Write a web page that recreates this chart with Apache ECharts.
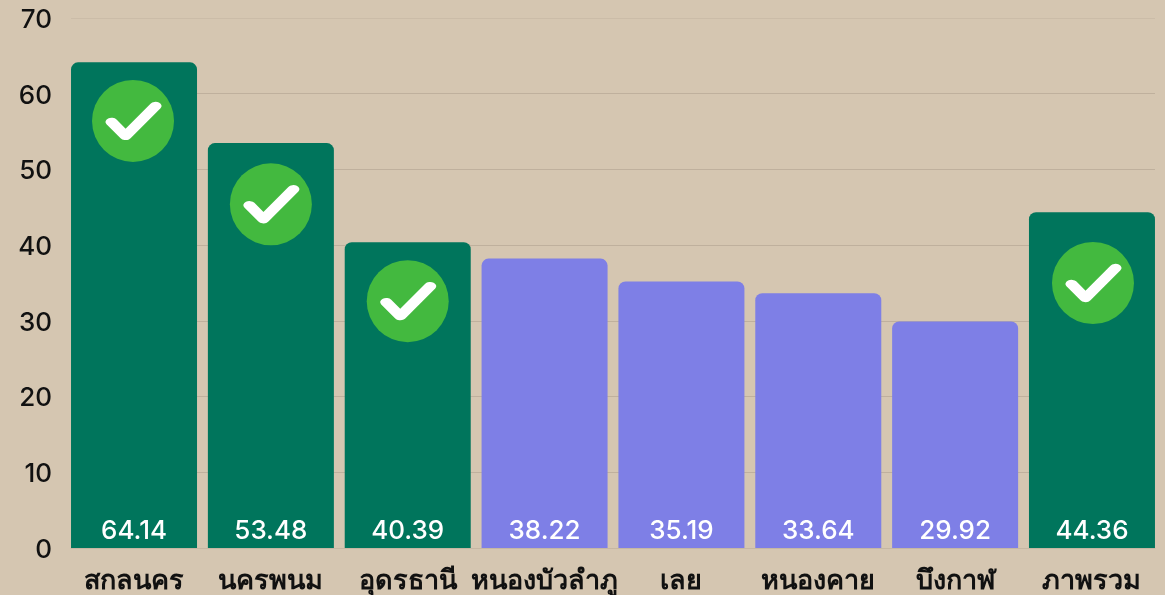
<!DOCTYPE html>
<html><head><meta charset="utf-8">
<style>html,body{margin:0;padding:0;background:#d5c6b1}#c{width:1165px;height:595px}</style>
<script src="https://cdn.jsdelivr.net/npm/echarts@6/dist/echarts.min.js"></script></head>
<body><div id="c"></div>
<script>
const categories = ['สกลนคร','นครพนม','อุดรธานี','หนองบัวลำภู','เลย','หนองคาย','บึงกาฬ','ภาพรวม'];
const values = [64.14,53.48,40.39,38.22,35.19,33.64,29.92,44.36];
const passed = [true,true,true,false,false,false,false,true];
const checkHeights = [56.4,45.4,32.6,null,null,null,null,35];
const GREEN='#00755c', PURPLE='#7e7fe6';
const num = '"Inter","Open Sans",sans-serif';
const chart = echarts.init(document.getElementById('c'),null,{renderer:'canvas'});
const nudge = [-1,0,0,0,0,0,0,1];
const checkPts = extra => checkHeights.map((v,i)=>v==null?null:{value:[i,v],symbolOffset:[nudge[i]+extra,0]}).filter(Boolean);
chart.setOption({
  backgroundColor:'#d5c6b1',
  animation:false,
  grid:[
    {left:71,right:10,top:18,bottom:47},
    {left:65.6,right:4.6,top:18,bottom:47}
  ],
  xAxis:[
    {gridIndex:0,type:'category',data:categories,
     axisLine:{show:true,lineStyle:{color:'#c6b7a3',width:1}},axisTick:{show:false},axisLabel:{show:false}},
    {gridIndex:1,type:'category',data:categories,
     axisLine:{show:false},axisTick:{show:false},
     axisLabel:{interval:0,color:'#111',fontSize:27,fontWeight:'bold',margin:17,
       fontFamily:'"Noto Sans CJK SC","Noto Sans",sans-serif'}}
  ],
  yAxis:[
    {gridIndex:0,type:'value',min:0,max:70,interval:10,
     axisLine:{show:false},axisTick:{show:false},
     axisLabel:{margin:19,formatter:'{a|{value}}',
       rich:{a:{color:'#111',fontSize:26,padding:[4,0,0,0],fontFamily:num,fontWeight:500}}},
     splitLine:{lineStyle:{color:['#c6b7a3','#bfb09d','#bfb09d','#bfb09d','#bfb09d','#bfb09d','#bfb09d','#cbbca8'],width:1}}},
    {gridIndex:1,type:'value',min:0,max:70,interval:10,show:false}
  ],
  series:[
    {type:'bar',xAxisIndex:1,yAxisIndex:1,barWidth:126,
     data:values.map((v,i)=>({value:v,itemStyle:{color:passed[i]?GREEN:PURPLE,borderRadius:[7,7,0,0]}})),
     label:{show:true,position:'insideBottom',distance:4,color:'#fff',fontSize:26,fontFamily:num,fontWeight:500,
       formatter:p=>p.value.toFixed(2)}},
    {type:'scatter',xAxisIndex:1,yAxisIndex:1,data:checkPts(0),symbol:'circle',symbolSize:82,
     itemStyle:{color:'#43b93f',opacity:1},z:5},
    {type:'scatter',xAxisIndex:1,yAxisIndex:1,data:checkPts(0.5),
     symbol:'path://M0 17L15 32L47 0',symbolSize:[44,30],
     itemStyle:{color:'none',borderColor:'#fff',borderWidth:10,borderCap:'round',borderJoin:'round',opacity:1},z:6}
  ]
});
</script></body></html>
